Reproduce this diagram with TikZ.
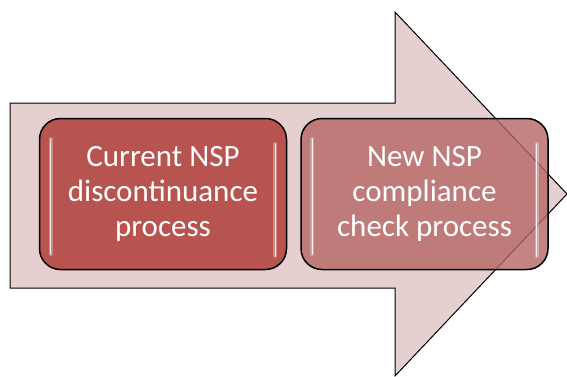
\documentclass[tikz,border=0pt]{standalone}
\usepackage{fontspec}
\setmainfont{Carlito}
\usetikzlibrary{positioning}
\definecolor{arrowpink}{RGB}{230,208,207}
\definecolor{procred}{RGB}{184,84,80}
\definecolor{procrose}{RGB}{180,102,101}

\begin{document}
\begin{tikzpicture}[x=1pt,y=-1pt,
    procbox/.style={draw=black,line width=1.5pt,rounded corners=21pt,
      minimum width=247pt,minimum height=151pt,inner sep=0pt,
      text=white,align=center,font=\fontsize{31}{35}\selectfont},
    gloss/.style={white,line width=4pt,opacity=.3,line cap=round},
    glossline/.style={white,line width=1.3pt,opacity=.85,line cap=round}]
    \useasboundingbox (0,0) rectangle (567,376);

    \draw[fill=arrowpink,line width=1pt]
      (10,103) -- (395,103) -- (395,12) -- (567,194)
      -- (395,376) -- (395,288) -- (10,288) -- cycle;

    \node(cur_proc)[procbox,fill=procred] at (163,194)
      {Current NSP\\discontinuance\\process};
    \node(new_proc)[procbox,fill=procrose,fill opacity=.8,text opacity=1,
      right=13pt of cur_proc]
      {New NSP\\compliance\\check process};

    \foreach \p in {cur_proc,new_proc}{
      \draw[gloss] ([xshift=12pt,yshift=55pt]\p.west) -- ([xshift=12pt,yshift=-60pt]\p.west);
      \draw[glossline] ([xshift=12pt,yshift=55pt]\p.west) -- ([xshift=12pt,yshift=-60pt]\p.west);
      \draw[gloss] ([xshift=-12pt,yshift=50pt]\p.east) -- ([xshift=-12pt,yshift=-62pt]\p.east);
      \draw[glossline] ([xshift=-12pt,yshift=50pt]\p.east) -- ([xshift=-12pt,yshift=-62pt]\p.east);
    }
\end{tikzpicture}
\end{document}
